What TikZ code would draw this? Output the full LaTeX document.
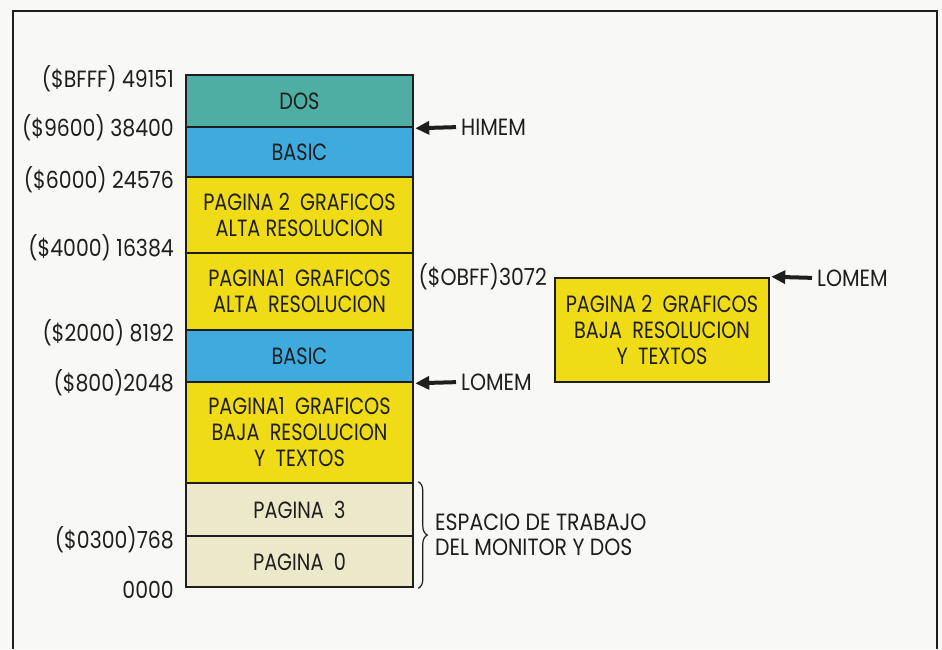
\documentclass[tikz,border=0pt]{standalone}
\usepackage{fontspec}
\setmainfont{Poppins}[FakeStretch=0.87]
\newfontfamily\blockfont{Poppins}[FakeStretch=0.82]
\usetikzlibrary{arrows.meta,decorations.pathreplacing}
\definecolor{bgc}{RGB}{248,248,246}
\definecolor{doscol}{RGB}{78,174,164}
\definecolor{basiccol}{RGB}{62,170,222}
\definecolor{yelcol}{RGB}{240,220,22}
\definecolor{beigecol}{RGB}{236,233,202}
\definecolor{inkcol}{RGB}{30,30,30}
\tikzset{
  memblock/.style={draw=inkcol, line width=2.6pt, minimum width=227pt, inner sep=0pt,
    align=center, text=inkcol, font=\blockfont\fontsize{23.5}{26}\selectfont},
  addr/.style={anchor=east, inner sep=0pt, text=inkcol, font=\fontsize{23.5}{25}\selectfont},
  marker/.style={anchor=west, inner sep=0pt, text=inkcol, font=\fontsize{23.5}{25}\selectfont},
  memarrow/.style={draw=inkcol, line width=4pt, -{Triangle[length=14pt,width=13pt]}, shorten >=1pt, shorten <=5pt},
}
\begin{document}
\begin{tikzpicture}[x=1pt,y=-1pt]
\useasboundingbox[fill=bgc] (0,0) rectangle (942,649);
\draw[line width=2pt, draw=inkcol] (13,649) -- (13,11) -- (937,11) -- (937,649);
% main column
\node[memblock, fill=doscol, minimum height=52pt] (dos) at (299.5,101) {DOS};
\node[memblock, fill=basiccol, minimum height=50pt] (basica) at (299.5,152) {BASIC};
\node[memblock, fill=yelcol, minimum height=76pt] (pagtwoa) at (299.5,215) {PAGINA 2\ \ GRAFICOS\\ALTA RESOLUCION};
\node[memblock, fill=yelcol, minimum height=77pt] (pagonea) at (299.5,291.5) {PAGINA1\ \ GRAFICOS\\ALTA\ \ RESOLUCION};
\node[memblock, fill=basiccol, minimum height=52pt] (basicb) at (299.5,356) {BASIC};
\node[memblock, fill=yelcol, minimum height=101pt] (pageoneb) at (299.5,432.5) {PAGINA1\ \ GRAFICOS\\BAJA\ \ RESOLUCION\\Y\ \ TEXTOS};
\node[memblock, fill=beigecol, minimum height=53pt] (pagthree) at (299.5,509.5) {PAGINA\ \ 3};
\node[memblock, fill=beigecol, minimum height=51pt] (pagzero) at (299.5,561.5) {PAGINA\ \ 0};
% address labels
\node[addr] (aa) at (174,79) {(\$BFFF) 49151};
\node[addr] (ab) at (174,128) {(\$9600) 38400};
\node[addr] (ac) at (174,180) {(\$6000) 24576};
\node[addr] (ad) at (174,248) {(\$4000) 16384};
\node[addr] (ae) at (174,333) {(\$2000) 8192};
\node[addr] (af) at (174,383) {(\$800)2048};
\node[addr] (ag) at (174,540) {(\$0300)768};
\node[addr] (ah) at (174,590) {0000};
% HIMEM / LOMEM
\node[marker] (himem) at (461,127) {HIMEM};
\draw[memarrow] (himem.west) -- (dos.south east);
\node[marker] (lomema) at (461,382) {LOMEM};
\draw[memarrow] (lomema.west) -- (basicb.south east);
% right block
\node[memblock, fill=yelcol, minimum width=214pt, minimum height=104pt] (pagtwob) at (662,330) {PAGINA 2\ \ GRAFICOS\\BAJA\ \ RESOLUCION\\Y\ \ TEXTOS};
\node[addr] (ai) at (547,277) {(\$OBFF)3072};
\node[marker] (lomemb) at (817,278) {LOMEM};
\draw[memarrow] (lomemb.west) -- (pagtwob.north east);
% brace
\coordinate (bt) at ([xshift=4pt]pagthree.north east);
\coordinate (bb) at ([xshift=4pt]pagzero.south east);
\draw[draw=inkcol, line width=1.2pt, decoration={brace, amplitude=9pt}, decorate] (bt) -- (bb);
\node[anchor=west, align=left, inner sep=0pt, text=inkcol, font=\fontsize{23.5}{25}\selectfont] (esp) at (435,535) {ESPACIO DE TRABAJO\\DEL MONITOR Y DOS};
\end{tikzpicture}
\end{document}
